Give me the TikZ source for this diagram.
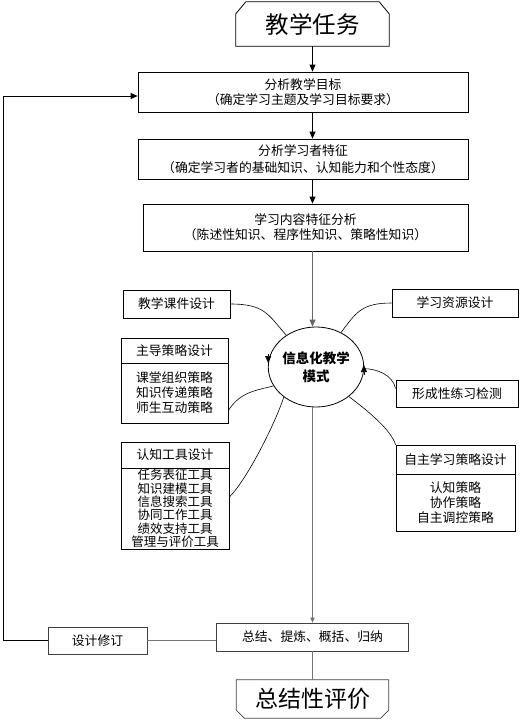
\documentclass[tikz,border=0pt]{standalone}
\usepackage{fontspec}
\setmainfont{Noto Sans CJK SC}
\usetikzlibrary{shapes.geometric,arrows.meta,calc}
\begin{document}
\begin{tikzpicture}[x=1pt,y=-1pt,
  box/.style={draw=black,line width=0.8pt,fill=white,rectangle,inner sep=0pt,align=center,font=\fontsize{12.8}{15}\selectfont},
  plain/.style={rectangle,inner sep=0pt,align=center},
  outline/.style={draw=black,line width=0.8pt},
  arr/.style={draw=black,line width=0.8pt,-{Triangle[width=6pt,length=7pt]}},
  gline/.style={draw=black!55,line width=1.1pt},
  curve/.style={draw=black,line width=0.6pt},
  ctip/.style={draw=black,line width=0.6pt,-{Triangle[width=6pt,length=7pt]}}
]
\useasboundingbox (0,0) rectangle (526,720);

% main column
\node[plain,minimum width=153,minimum height=44,font=\fontsize{23.5}{26}\selectfont] (task) at (312.5,24) {教学任务};
\draw[outline] (task.south west) -- ($(task.north west)+(0,12)$) -- ($(task.north west)+(10,0)$) -- ($(task.north east)+(-10,0)$) -- ($(task.north east)+(0,12)$) -- (task.south east) -- cycle;

\node[box,minimum width=330,minimum height=40] (b1) at (303,92) {分析教学目标\\（确定学习主题及学习目标要求）};
\node[box,minimum width=330,minimum height=40,font=\fontsize{12.8}{17}\selectfont] (b2) at (303,159) {分析学习者特征\\（确定学习者的基础知识、认知能力和个性态度）};
\node[box,minimum width=325,minimum height=47] (b3) at (305.5,227.5) {学习内容特征分析\\（陈述性知识、程序性知识、策略性知识）};

\node[draw=black,line width=0.8pt,ellipse,inner sep=0pt,minimum width=90,minimum height=80,align=center,font=\fontsize{13.5}{18}\selectfont\bfseries] (mode) at (316,367) {信息化教学\\模式};

\node[box,minimum width=192,minimum height=28,draw=black!75] (sum) at (312.5,637) {总结、提炼、概括、归纳};
\node[box,minimum width=99,minimum height=27,draw=black!75] (rev) at (97.5,640.5) {设计修订};

\node[plain,minimum width=152,minimum height=38,font=\fontsize{23}{26}\selectfont] (eval) at (312.5,699) {总结性评价};
\draw[outline,draw=black!75] (eval.north west) -- ($(eval.south west)+(0,-8)$) -- ($(eval.south west)+(8,0)$) -- ($(eval.south east)+(-8,0)$) -- ($(eval.south east)+(0,-8)$) -- (eval.north east) -- cycle;

% side boxes
\node[box,minimum width=107,minimum height=28] (kj) at (176.5,304) {教学课件设计};
\node[box,minimum width=126,minimum height=28] (zy) at (455,303) {学习资源设计};
\node[box,minimum width=122,minimum height=27] (xc) at (457,393.5) {形成性练习检测};

\node[box,minimum width=107,minimum height=25] (zdT) at (174.5,350.5) {主导策略设计};
\node[box,minimum width=107,minimum height=60] (zdB) at (174.5,393) {课堂组织策略\\知识传递策略\\师生互动策略};

\node[box,minimum width=108,minimum height=26] (rzT) at (175,455) {认知工具设计};
\node[box,minimum width=108,minimum height=81,font=\fontsize{12.5}{13.4}\selectfont] (rzB) at (175,508.5) {任务表征工具\\知识建模工具\\信息搜索工具\\协同工作工具\\绩效支持工具\\管理与评价工具};

\node[box,minimum width=119,minimum height=29] (zzT) at (455.5,459.5) {自主学习策略设计};
\node[box,minimum width=119,minimum height=57] (zzB) at (455.5,502.5) {认知策略\\协作策略\\自主调控策略};

% main arrows
\draw[arr] (task.south) -- (task.south |- b1.north);
\draw[arr] (b1.south -| task.south) -- (b2.north -| task.south);
\draw[arr] (b2.south -| task.south) -- (b3.north -| task.south);
\draw[gline,-{Triangle[width=6pt,length=7pt]},draw=black!60,fill=black] (b3.south -| task.south) -- (mode.north -| task.south);
\draw[gline,-{Triangle[width=4.5pt,length=5pt]}] (mode.south -| task.south) -- (sum.north);
\draw[gline] (sum.south) -- (eval.north);
\draw[gline] (rev.east) -- (rev.east -| sum.west);

% feedback loop
\coordinate (fbk) at (3,0);
\draw[arr] (rev.west) -- (rev.west -| fbk) |- ($(b1.west)+(0,4)$);

% curves to the circle
\draw[curve] (kj.east) .. controls +(35,0) and +(-18,-20) .. (mode.133);
\draw[curve] (zy.west) .. controls +(-30,0) and +(15,-20) .. (mode.54);
\draw[curve] ($(zdB.south east)+(0,-13)$) .. controls +(12,-18) and +(-20,5) .. (mode.204);
\draw[curve] ($(rzB.east)+(0,-11.5)$) .. controls +(18,-18) and +(-8,25) .. (mode.223);
\draw[curve] (zzT.north west) .. controls +(-5,-15) and +(20,15) .. (mode.318);
\draw[curve] ($(xc.west)+(0,-5)$) .. controls +(-3,-14) and +(12,0) .. (mode.-2);

% rotation marks on the circle
\draw[ctip] ($(mode.west)+(0.3,-13)$) -- ($(mode.west)+(0.3,-4)$);
\draw[ctip] ($(mode.east)+(-0.2,8)$) -- ($(mode.east)+(-0.2,-2)$);
\end{tikzpicture}
\end{document}
